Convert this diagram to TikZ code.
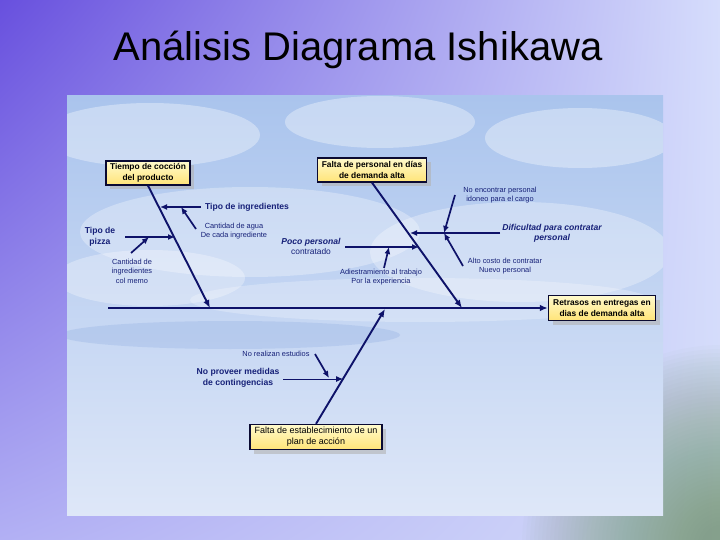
\documentclass[tikz,border=0pt]{standalone}
\usepackage{fontspec}
\setmainfont{Liberation Sans}
\usetikzlibrary{arrows.meta,shadows,shadings}
\definecolor{navy}{RGB}{14,18,105}
\definecolor{labc}{RGB}{22,32,120}
\definecolor{boxtop}{RGB}{255,250,205}
\definecolor{boxbot}{RGB}{255,228,120}
\definecolor{boxline}{RGB}{10,10,50}
\definecolor{bgUL}{RGB}{104,80,222}
\definecolor{bgUR}{RGB}{214,221,252}
\definecolor{bgLL}{RGB}{178,176,244}
\definecolor{bgLR}{RGB}{212,220,250}
\definecolor{cornergreen}{RGB}{110,150,105}
\definecolor{paneltop}{RGB}{170,196,237}
\definecolor{panelbot}{RGB}{222,231,248}
\definecolor{bandblue}{RGB}{150,178,228}
\begin{document}
\begin{tikzpicture}[x=1pt,y=-1pt,
  bone/.style={draw=navy,line width=1.9pt,-{Latex[length=8pt,width=6.5pt]}},
  twig/.style={draw=navy,line width=1.7pt,-{Latex[length=7pt,width=6pt]}},
  causebox/.style={draw=boxline,line width=1.3pt,top color=boxtop,bottom color=boxbot,
    align=center,inner sep=1pt,text=black,
    drop shadow={shadow xshift=4pt,shadow yshift=-4pt,fill=black!30,opacity=0.6}},
  boldlab/.style={text=labc,align=center,inner sep=0pt,font=\fontsize{8.6}{10.5}\selectfont\bfseries},
  itlab/.style={text=labc,align=center,inner sep=0pt,font=\fontsize{8.6}{10}\selectfont\bfseries\itshape},
  smalllab/.style={text=labc,align=center,inner sep=0pt,font=\fontsize{7.4}{9.6}\selectfont}]
\useasboundingbox (0,0) rectangle (720,540);
% slide background
\shade[upper left=bgUL,upper right=bgUR,lower left=bgLL,lower right=bgLR] (0,0) rectangle (720,540);
\begin{scope}
\clip (0,0) rectangle (720,540);
\foreach \r in {200,196,...,20} {\fill[cornergreen,opacity=0.022] (722,545) circle [radius=\r];}
\end{scope}
% title
\node[font=\fontsize{40}{44}\selectfont,text=black] (title) at (358,50) {Análisis Diagrama Ishikawa};
% panel
\shade[top color=paneltop,bottom color=panelbot] (67,96) rectangle (663,515);
\begin{scope}
\clip (67,96) rectangle (663,515);
\fill[white,opacity=0.35] (150,135) ellipse [x radius=110,y radius=32];
\fill[white,opacity=0.35] (380,122) ellipse [x radius=95,y radius=26];
\fill[white,opacity=0.35] (580,138) ellipse [x radius=95,y radius=30];
\fill[white,opacity=0.3] (250,232) ellipse [x radius=170,y radius=45];
\fill[white,opacity=0.3] (520,252) ellipse [x radius=150,y radius=50];
\fill[white,opacity=0.3] (150,278) ellipse [x radius=95,y radius=28];
\fill[white,opacity=0.25] (420,300) ellipse [x radius=230,y radius=22];
\fill[bandblue,opacity=0.35] (230,335) ellipse [x radius=170,y radius=14];
\end{scope}
% boxes
\node[causebox,minimum width=84pt,minimum height=24pt,font=\fontsize{8.4}{10.5}\selectfont\bfseries] (c1) at (148,173) {Tiempo de cocción\\del producto};
\node[causebox,minimum width=109pt,minimum height=24pt,font=\fontsize{8.4}{10.5}\selectfont\bfseries] (c2) at (372,170) {Falta de personal en días\\de demanda alta};
\node[causebox,minimum width=107pt,minimum height=25pt,font=\fontsize{8.4}{10.5}\selectfont\bfseries] (eff) at (602,308) {Retrasos en entregas en\\dias de demanda alta};
\node[causebox,minimum width=132pt,minimum height=25pt,font=\fontsize{9}{11}\selectfont] (c3) at (316,437) {Falta de establecimiento de un\\plan de acción};
% labels
\node[boldlab] (ti) at (247,207) {Tipo de ingredientes};
\node[smalllab] (ca) at (234,231) {Cantidad de agua\\De cada ingrediente};
\node[boldlab] (tp) at (100,237) {Tipo de\\pizza};
\node[smalllab] (ci) at (132,271) {Cantidad de\\ingredientes\\col memo};
\node[itlab,align=center] (pp) at (311,246) {Poco personal\\{\normalfont\fontsize{8.4}{10}\selectfont contratado}};
\node[itlab] (dif) at (552,233) {Dificultad para contratar\\personal};
\node[smalllab] (ne) at (500,195) {No encontrar personal\\idoneo para el cargo};
\node[smalllab] (ac) at (505,266) {Alto costo de contratar\\Nuevo personal};
\node[smalllab] (ad) at (381,277) {Adiestramiento al trabajo\\Por la experiencia};
\node[smalllab] (nr) at (276,354) {No realizan estudios};
\node[boldlab] (np) at (238,378) {No proveer medidas\\de contingencias};
% coordinates
\coordinate (spL) at (108,308);
\coordinate (j1) at (210,308);
\coordinate (j2) at (462,308);
\coordinate (j3) at (385,309);
\coordinate (b1a) at (160,207);
\coordinate (b1at) at (201,207);
\coordinate (b1s) at (181,207);
\coordinate (b1st) at (196,229);
\coordinate (b1b) at (175,237);
\coordinate (b1bt) at (125,237);
\coordinate (b1bs) at (149,237);
\coordinate (b1bst) at (131,253);
\coordinate (b2a) at (410,233);
\coordinate (b2at) at (500,233);
\coordinate (b2as) at (444,233);
\coordinate (b2ast) at (455,195);
\coordinate (b2ast2) at (463,266);
\coordinate (b2b) at (419,247);
\coordinate (b2bt) at (345,247);
\coordinate (b2bs) at (389,247);
\coordinate (b2bst) at (384,268);
\coordinate (b3a) at (343,379);
\coordinate (b3at) at (283,379);
\coordinate (b3as) at (329,378);
\coordinate (b3ast) at (315,354);
% spine and bones
\draw[bone] (spL) -- (eff.west);
\draw[bone] (c1.south) -- (j1);
\draw[bone] (c2.south) -- (j2);
\draw[bone] (c3.north) -- (j3);
% branches
\draw[twig] (b1at) -- (b1a);
\draw[twig] (b1st) -- (b1s);
\draw[twig] (b1bt) -- (b1b);
\draw[twig] (b1bst) -- (b1bs);
\draw[twig] (b2at) -- (b2a);
\draw[twig] (b2ast) -- (b2as);
\draw[twig] (b2ast2) -- (b2as);
\draw[twig] (b2bt) -- (b2b);
\draw[twig] (b2bst) -- (b2bs);
\draw[twig,line width=1pt] (b3at) -- (b3a);
\draw[twig] (b3ast) -- (b3as);
\end{tikzpicture}
\end{document}
